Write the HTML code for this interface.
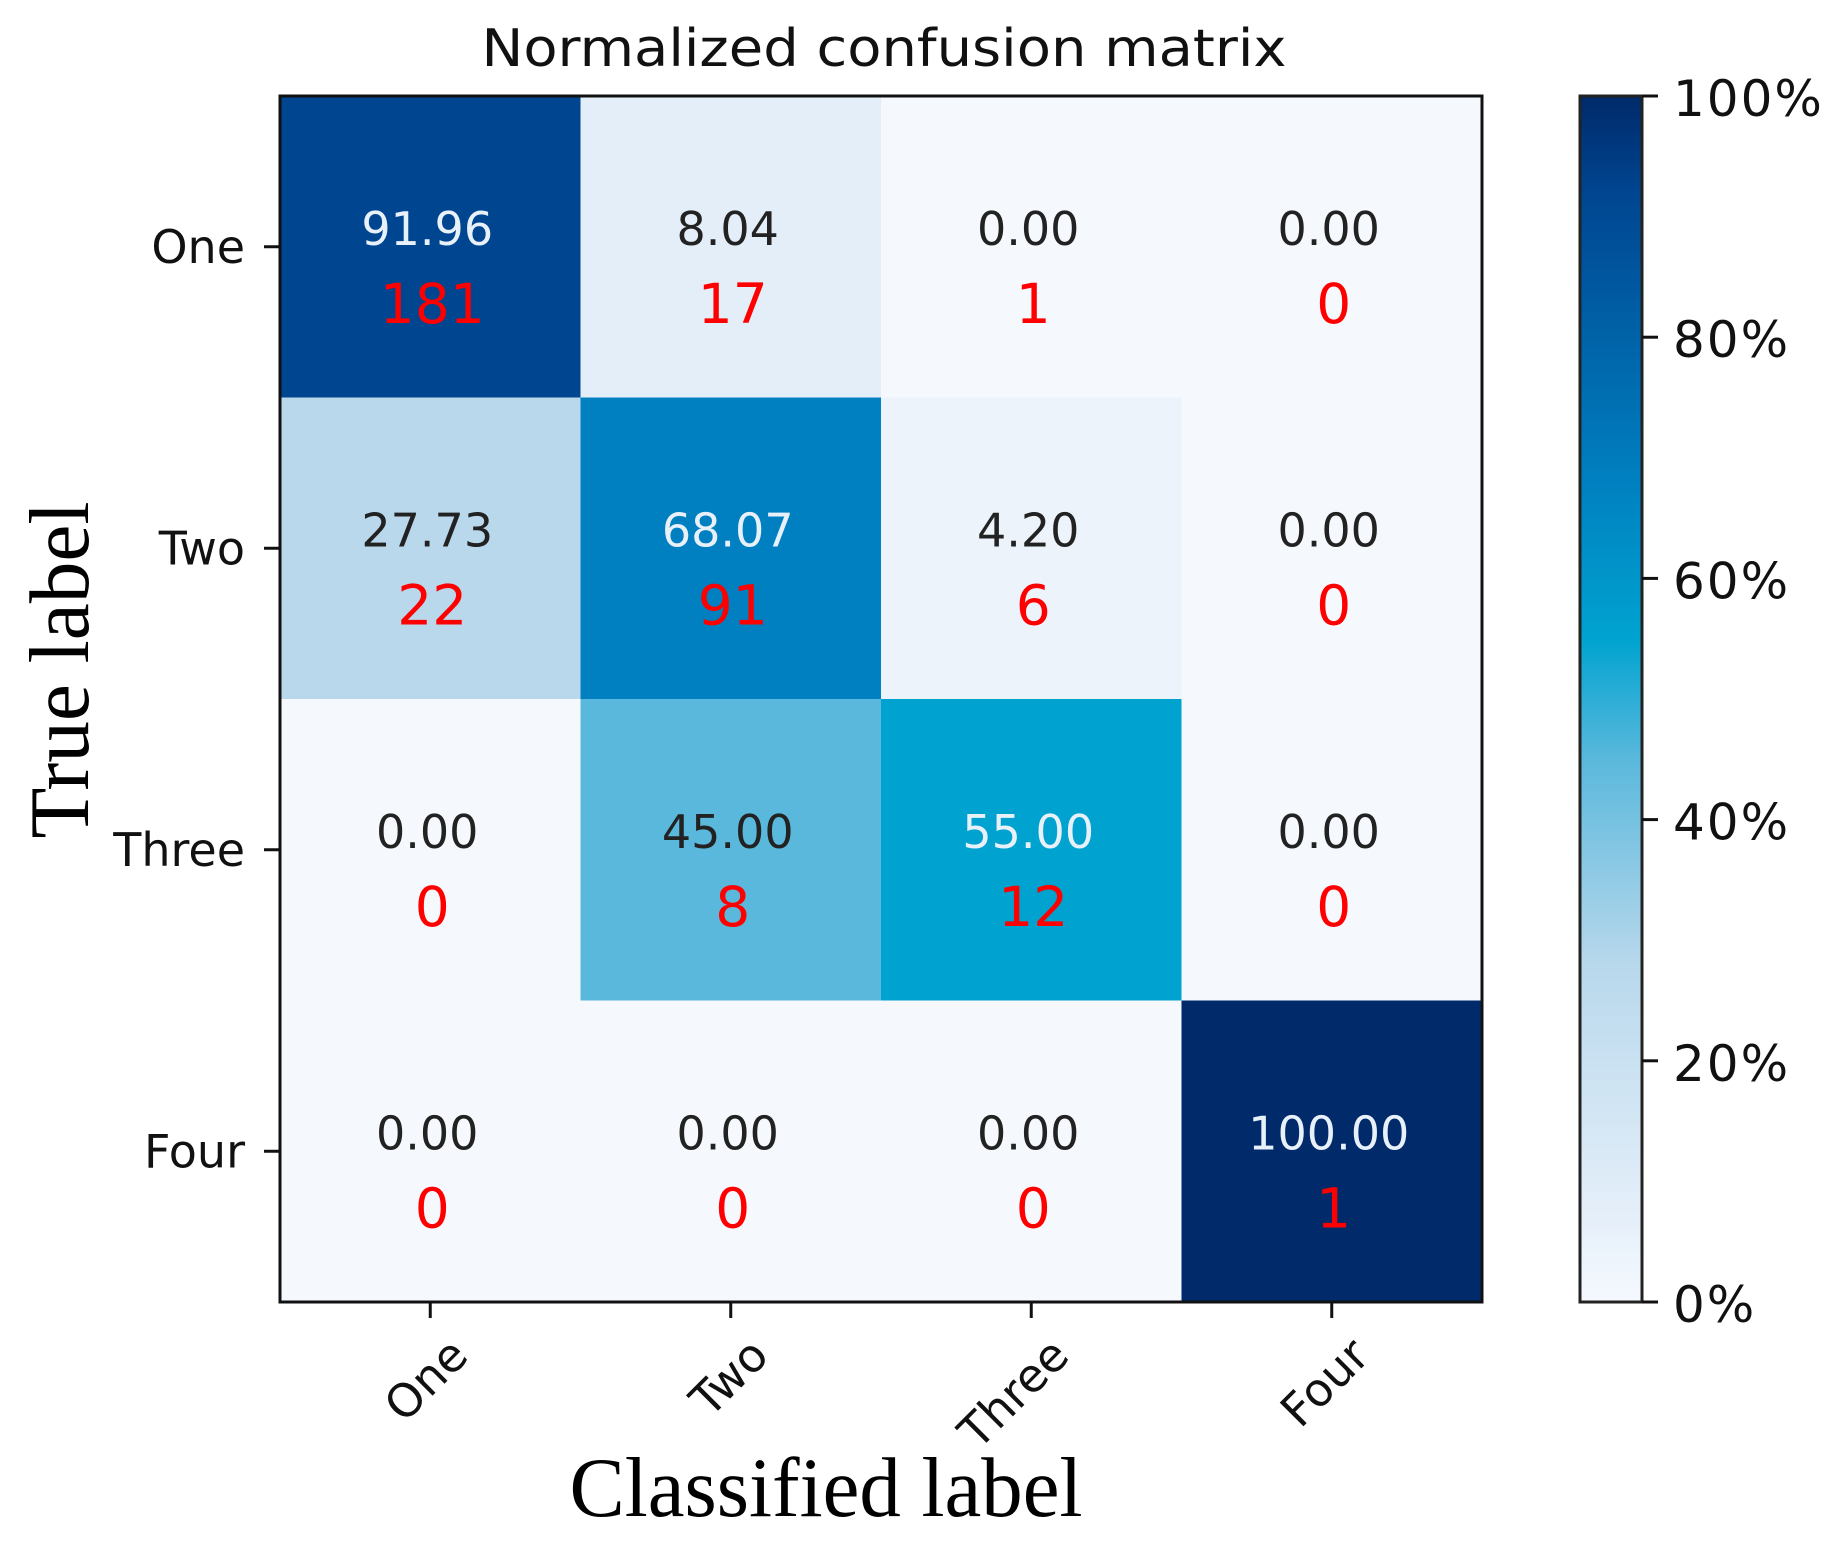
<!DOCTYPE html>
<html><head><meta charset="utf-8">
<style>
html,body{margin:0;padding:0;background:#fff;}
svg{display:block;}
</style></head>
<body>
<svg id="chart" width="1833" height="1546" viewBox="0 0 1833 1546" xmlns="http://www.w3.org/2000/svg">
<defs>
<linearGradient id="cbgrad" x1="0" y1="1" x2="0" y2="0">
<stop offset="0" stop-color="#f5f9fe"/>
<stop offset="0.08" stop-color="#e3eef9"/>
<stop offset="0.28" stop-color="#b8d8ec"/>
<stop offset="0.45" stop-color="#5ab8dc"/>
<stop offset="0.55" stop-color="#00a3d0"/>
<stop offset="0.68" stop-color="#0080c0"/>
<stop offset="0.92" stop-color="#004590"/>
<stop offset="1" stop-color="#002a6a"/>
</linearGradient>
</defs>
<text x="884" y="66" text-anchor="middle" font-family="DejaVu Sans, sans-serif" font-size="52" textLength="805" lengthAdjust="spacingAndGlyphs" fill="#111">Normalized confusion matrix</text>
<g id="cells"></g>
<rect x="280" y="96" width="1202" height="1206" fill="none" stroke="#111" stroke-width="3"/>
<g id="axes"></g>
<rect x="1580" y="96" width="62" height="1206" fill="url(#cbgrad)" stroke="#222" stroke-width="3"/>
<g id="cbticks"></g>
<text x="826" y="1516" text-anchor="middle" font-family="Liberation Serif, serif" font-size="85" textLength="513" lengthAdjust="spacingAndGlyphs" fill="#000">Classified label</text>
<text x="0" y="0" transform="translate(88,670) rotate(-90)" text-anchor="middle" font-family="Liberation Serif, serif" font-size="85" textLength="337" lengthAdjust="spacingAndGlyphs" fill="#000">True label</text>
</svg>
<script>
const categories = ["One","Two","Three","Four"];
const percentRow1 = [91.96, 8.04, 0.00, 0.00];
const percentRow2 = [27.73, 68.07, 4.20, 0.00];
const percentRow3 = [0.00, 45.00, 55.00, 0.00];
const percentRow4 = [0.00, 0.00, 0.00, 100.00];
const countRow1 = [181, 17, 1, 0];
const countRow2 = [22, 91, 6, 0];
const countRow3 = [0, 8, 12, 0];
const countRow4 = [0, 0, 0, 1];
const colorbarTicks = [0, 20, 40, 60, 80, 100];
const colorbarTickLabels = ["0%","20%","40%","60%","80%","100%"];

const percents = [percentRow1, percentRow2, percentRow3, percentRow4];
const counts = [countRow1, countRow2, countRow3, countRow4];
const NS = "http://www.w3.org/2000/svg";
const X0 = 280, Y0 = 96, W = 1202, H = 1206;
const n = categories.length;
const cw = W / n, ch = H / n;
function xScale(i){ return X0 + i * cw; }
function yScale(i){ return Y0 + i * ch; }
function cbScale(v){ return Y0 + H - (v / 100) * H; }
const stops = [[0,[245,249,254]],[0.08,[227,238,249]],[0.28,[184,216,236]],[0.45,[90,184,220]],[0.55,[0,163,208]],[0.68,[0,128,192]],[0.92,[0,69,144]],[1,[0,42,106]]];
function cmap(v){
  const t = Math.max(0, Math.min(1, v/100));
  for (let k=1;k<stops.length;k++){
    if (t <= stops[k][0]){
      const a=stops[k-1], b=stops[k];
      const f=(t-a[0])/(b[0]-a[0]);
      const c=a[1].map((x,j)=>Math.round(x+(b[1][j]-x)*f));
      return `rgb(${c[0]},${c[1]},${c[2]})`;
    }
  }
  return "rgb(0,42,106)";
}
function mk(tag, attrs, parent){
  const el = document.createElementNS(NS, tag);
  for (const k in attrs) el.setAttribute(k, attrs[k]);
  parent.appendChild(el);
  return el;
}
const cells = document.getElementById("cells");
for (let r=0;r<n;r++){
  for (let c=0;c<n;c++){
    const v = percents[r][c];
    const rect = mk("rect", {x:xScale(c), y:yScale(r), width:cw+0.5, height:ch+0.5, fill:cmap(v)}, cells);
    
    
    const cx = xScale(c) + cw/2, cy = yScale(r) + ch/2;
    const t1 = mk("text", {x:cx-3, y:cy-2, "text-anchor":"middle", "font-family":"DejaVu Sans, sans-serif", "font-size":"46", fill: v > 50 ? "#e8f0fa" : "#222"}, cells);
    t1.textContent = v.toFixed(2);
    
    
    const t2 = mk("text", {x:cx+2, y:cy+76, "text-anchor":"middle", "font-family":"DejaVu Sans, sans-serif", "font-size":"55", fill:"#ff0000"}, cells);
    t2.textContent = counts[r][c];
    
    
  }
}
const axes = document.getElementById("axes");
for (let i=0;i<n;i++){
  const yc = yScale(i)+ch/2;
  const tk = mk("line", {x1:264, y1:yc, x2:280, y2:yc, stroke:"#111", "stroke-width":3}, axes);
  
  
  const lb = mk("text", {x:245, y:yc+16, "text-anchor":"end", "font-family":"DejaVu Sans, sans-serif", "font-size":"46", fill:"#111"}, axes);
  lb.textContent = categories[i];
  
  
  const xc = xScale(i)+cw/2;
  const tx = mk("line", {x1:xc, y1:1302, x2:xc, y2:1318, stroke:"#111", "stroke-width":3}, axes);
  
  
  const xl = mk("text", {x:0, y:0, transform:`translate(${xc+40},${1358}) rotate(-45)`, "text-anchor":"end", "font-family":"DejaVu Sans, sans-serif", "font-size":"46", fill:"#111"}, axes);
  xl.textContent = categories[i];
  
  
}
const cbt = document.getElementById("cbticks");
for (let i=0;i<colorbarTicks.length;i++){
  const y = cbScale(colorbarTicks[i]);
  const l = mk("line", {x1:1642, y1:y, x2:1658, y2:y, stroke:"#111", "stroke-width":3}, cbt);
  
  
  const t = mk("text", {x:1673, y:y+20, "font-family":"DejaVu Sans, sans-serif", "font-size":"50", "letter-spacing":"2", fill:"#111"}, cbt);
  t.textContent = colorbarTickLabels[i];
  
  
}
</script>
</body></html>
